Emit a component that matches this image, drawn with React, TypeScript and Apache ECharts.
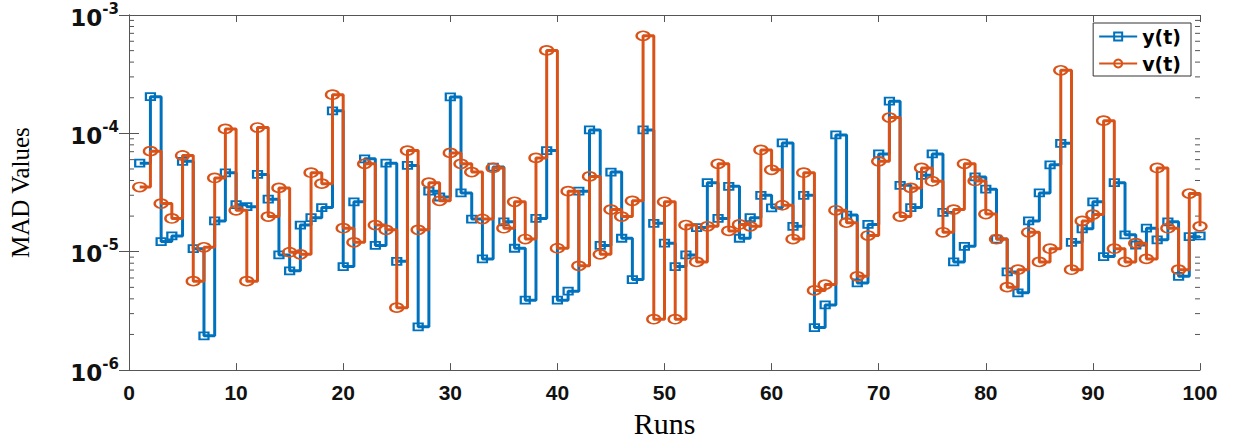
import React, { useEffect, useRef } from "react";
import * as echarts from "echarts";

const runs: number[] = Array.from({ length: 100 }, (_, i) => i + 1);

const yT: number[] = [
  5.6e-5, 2.04e-4, 1.22e-5, 1.36e-5, 5.8e-5, 1.06e-5, 1.95e-6, 1.82e-5, 4.64e-5, 2.5e-5,
  2.4e-5, 4.5e-5, 2.78e-5, 9.4e-6, 6.9e-6, 1.68e-5, 1.94e-5, 2.36e-5, 1.55e-4, 7.5e-6,
  2.64e-5, 6.1e-5, 1.13e-5, 5.6e-5, 8.3e-6, 5.36e-5, 2.32e-6, 3.25e-5, 2.9e-5, 2.03e-4,
  3.14e-5, 1.89e-5, 8.7e-6, 5.19e-5, 1.79e-5, 1.07e-5, 3.9e-6, 1.91e-5, 7.15e-5, 3.9e-6,
  4.64e-6, 3.25e-5, 1.07e-4, 1.13e-5, 4.71e-5, 1.3e-5, 5.82e-6, 1.07e-4, 1.74e-5, 1.18e-5,
  7.5e-6, 9.4e-6, 1.6e-5, 3.83e-5, 1.91e-5, 3.57e-5, 1.3e-5, 1.94e-5, 3.0e-5, 2.35e-5,
  8.3e-5, 1.64e-5, 3.0e-5, 2.29e-6, 3.55e-6, 9.7e-5, 2.04e-5, 5.45e-6, 1.7e-5, 6.7e-5,
  1.87e-4, 3.64e-5, 2.36e-5, 4.42e-5, 6.7e-5, 2.15e-5, 8.2e-6, 1.11e-5, 4.28e-5, 3.38e-5,
  1.28e-5, 6.75e-6, 4.5e-6, 1.82e-5, 3.14e-5, 5.42e-5, 8.24e-5, 1.2e-5, 1.56e-5, 2.64e-5,
  9.1e-6, 3.83e-5, 1.39e-5, 1.14e-5, 1.58e-5, 1.26e-5, 1.79e-5, 6.2e-6, 1.34e-5, 1.36e-5,
];

const vT: number[] = [
  3.52e-5, 7.07e-5, 2.55e-5, 1.91e-5, 6.5e-5, 5.64e-6, 1.09e-5, 4.2e-5, 1.09e-4, 2.24e-5,
  5.64e-6, 1.12e-4, 1.98e-5, 3.46e-5, 9.9e-6, 9.5e-6, 4.65e-5, 3.76e-5, 2.12e-4, 1.58e-5,
  1.2e-5, 5.53e-5, 1.68e-5, 1.53e-5, 3.37e-6, 7.15e-5, 1.53e-5, 3.83e-5, 2.69e-5, 6.84e-5,
  5.53e-5, 4.71e-5, 1.89e-5, 5.1e-5, 1.58e-5, 2.64e-5, 1.28e-5, 6.2e-5, 5.02e-4, 1.07e-5,
  3.25e-5, 7.6e-6, 4.33e-5, 9.5e-6, 2.27e-5, 1.98e-5, 2.69e-5, 6.67e-4, 2.69e-6, 2.64e-5,
  2.69e-6, 1.68e-5, 8.2e-6, 1.64e-5, 5.53e-5, 1.5e-5, 1.7e-5, 1.64e-5, 7.24e-5, 4.92e-5,
  2.47e-5, 1.28e-5, 4.65e-5, 4.71e-6, 5.28e-6, 2.24e-5, 1.76e-5, 6.2e-6, 1.37e-5, 5.8e-5,
  1.36e-4, 1.98e-5, 3.46e-5, 5.1e-5, 3.94e-5, 1.46e-5, 2.27e-5, 5.53e-5, 3.96e-5, 2.08e-5,
  1.28e-5, 5.02e-6, 7.05e-6, 1.46e-5, 8.2e-6, 1.06e-5, 3.41e-4, 7.05e-6, 1.82e-5, 2.06e-5,
  1.28e-4, 1.06e-5, 8.2e-6, 1.18e-5, 8.7e-6, 5.1e-5, 1.58e-5, 7.05e-6, 3.1e-5, 1.64e-5,
];

const minorTickValues: number[] = [
  2e-6, 3e-6, 4e-6, 5e-6, 6e-6, 7e-6, 8e-6, 9e-6,
  2e-5, 3e-5, 4e-5, 5e-5, 6e-5, 7e-5, 8e-5, 9e-5,
  2e-4, 3e-4, 4e-4, 5e-4, 6e-4, 7e-4, 8e-4, 9e-4,
];

const BLUE = "#0072BD";
const ORANGE = "#D95319";
const AXIS = "#555555";

export default function App() {
  const ref = useRef<HTMLDivElement>(null);

  useEffect(() => {
    if (!ref.current) return;
    const chart = echarts.init(ref.current, undefined, { renderer: "svg" });

    const yLabelFmt = (v: number) => {
      const e = Math.round(Math.log10(v));
      return `{b|10}{s|${e}}`;
    };

    const option: any = {
      animation: false,
      backgroundColor: "#ffffff",
      grid: { left: 126, top: 15, width: 1074, height: 358, containLabel: false },
      legend: {
        data: ["y(t)", "v(t)"],
        orient: "vertical",
        right: 48,
        top: 23,
        itemWidth: 38,
        itemHeight: 10,
        itemGap: 8,
        padding: [4, 10, 3, 5],
        borderColor: "#333",
        borderWidth: 1,
        backgroundColor: "#fff",
        textStyle: {
          fontFamily: "'DejaVu Sans', 'Liberation Sans', sans-serif",
          fontWeight: "bold",
          fontSize: 19,
          color: "#000",
        },
      },
      xAxis: [
        {
          type: "value",
          min: 0,
          max: 100,
          interval: 10,
          position: "bottom",
          name: "Runs",
          nameLocation: "middle",
          nameGap: 35,
          nameTextStyle: {
            fontFamily: "'Liberation Serif', 'Times New Roman', serif",
            fontSize: 30,
            color: "#000",
          },
          axisLine: { show: true, lineStyle: { color: AXIS, width: 1 } },
          axisTick: { show: true, inside: true, length: 7, lineStyle: { color: AXIS } },
          axisLabel: {
            margin: 12,
            fontFamily: "'Liberation Sans Narrow', 'Liberation Sans', Arial, sans-serif",
            fontWeight: "bold",
            fontSize: 21,
            color: "#111",
          },
          splitLine: { show: false },
        },
        {
          type: "value",
          min: 0,
          max: 100,
          interval: 10,
          position: "top",
          axisLine: { show: true, lineStyle: { color: AXIS, width: 1 } },
          axisTick: { show: true, inside: true, length: 7, lineStyle: { color: AXIS } },
          axisLabel: { show: false },
          splitLine: { show: false },
        },
      ],
      yAxis: [
        {
          type: "log",
          logBase: 10,
          min: 1e-6,
          max: 1e-3,
          position: "left",
          name: "MAD Values",
          nameLocation: "middle",
          nameGap: 96,
          nameTextStyle: {
            fontFamily: "'Liberation Serif', 'Times New Roman', serif",
            fontSize: 25,
            color: "#000",
          },
          axisLine: { show: true, lineStyle: { color: AXIS, width: 1 } },
          axisTick: { show: true, inside: true, length: 10, lineStyle: { color: AXIS } },
          axisLabel: {
            margin: 10,
            formatter: yLabelFmt,
            rich: {
              b: {
                fontFamily: "'DejaVu Sans', sans-serif",
                fontWeight: "bold",
                fontSize: 23,
                color: "#111",
                lineHeight: 28,
                verticalAlign: "bottom",
              },
              s: {
                fontFamily: "'DejaVu Sans', sans-serif",
                fontWeight: "bold",
                fontSize: 15,
                color: "#111",
                lineHeight: 28,
                verticalAlign: "top",
              },
            },
          },
          splitLine: { show: false },
        },
        {
          type: "log",
          logBase: 10,
          min: 1e-6,
          max: 1e-3,
          position: "right",
          axisLine: { show: true, lineStyle: { color: AXIS, width: 1 } },
          axisTick: { show: true, inside: true, length: 10, lineStyle: { color: AXIS } },
          axisLabel: { show: false },
          splitLine: { show: false },
        },
      ],
      series: [
        {
          name: "minor",
          type: "custom",
          silent: true,
          xAxisIndex: 0,
          yAxisIndex: 0,
          z: 1,
          clip: false,
          data: minorTickValues.map((v) => [0, v]),
          renderItem: (params: any, api: any) => {
            const v = api.value(1);
            const p0 = api.coord([0, v]);
            const p1 = api.coord([100, v]);
            return {
              type: "group",
              children: [
                {
                  type: "line",
                  shape: { x1: p0[0], y1: p0[1], x2: p0[0] + 5, y2: p0[1] },
                  style: { stroke: AXIS, lineWidth: 1 },
                },
                {
                  type: "line",
                  shape: { x1: p1[0] - 5, y1: p1[1], x2: p1[0], y2: p1[1] },
                  style: { stroke: AXIS, lineWidth: 1 },
                },
              ],
            };
          },
        },
        {
          name: "y(t)",
          type: "line",
          step: "end",
          data: runs.map((r, i) => [r, yT[i]]),
          symbol: "rect",
          symbolSize: [9, 7],
          showAllSymbol: true,
          lineStyle: { color: BLUE, width: 3 },
          itemStyle: { color: "rgba(255,255,255,0)", borderColor: BLUE, borderWidth: 2 },
          color: BLUE,
          z: 2,
        },
        {
          name: "v(t)",
          type: "line",
          step: "end",
          data: runs.map((r, i) => [r, vT[i]]),
          symbol: "circle",
          symbolSize: [13, 9],
          showAllSymbol: true,
          lineStyle: { color: ORANGE, width: 3 },
          itemStyle: { color: "rgba(255,255,255,0)", borderColor: ORANGE, borderWidth: 2 },
          color: ORANGE,
          z: 3,
        },
      ],
    };

    chart.setOption(option);
    return () => {
      chart.dispose();
    };
  }, []);

  return (
    <div
      ref={ref}
      style={{ position: "fixed", left: 0, top: 0, width: 1239, height: 443, background: "#fff" }}
    />
  );
}
